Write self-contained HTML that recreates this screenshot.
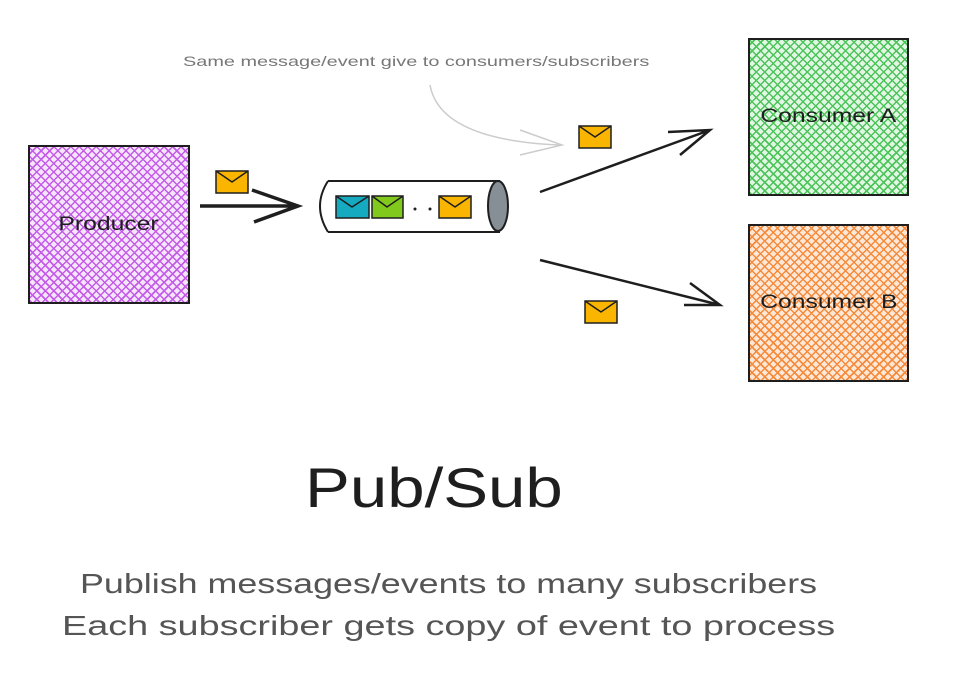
<!DOCTYPE html>
<html><head><style>
body{margin:0;width:960px;height:676px;background:#fff;position:relative;overflow:hidden;font-family:"Liberation Sans",sans-serif}
.box{position:absolute;border:2px solid #1e1e1e;box-sizing:border-box;display:flex;align-items:center;justify-content:center;font-size:19px;color:#1e1e1e}
.box span{display:inline-block;transform:scaleX(1.3)}
.t{position:absolute;white-space:nowrap;transform-origin:left top}
</style></head><body>
<div class="box" style="left:28px;top:145px;width:162px;height:159px;background:repeating-linear-gradient(45deg,#c45ce8 0 1.5px,transparent 1.5px 6px),repeating-linear-gradient(-45deg,#c45ce8 0 1.5px,#f6e6fc 1.5px 6px)"><span>Producer</span></div>
<div class="box" style="left:748px;top:38px;width:161px;height:158px;background:repeating-linear-gradient(45deg,#4cc45a 0 1.5px,transparent 1.5px 6px),repeating-linear-gradient(-45deg,#4cc45a 0 1.5px,#e2f6e4 1.5px 6px)"><span>Consumer A</span></div>
<div class="box" style="left:748px;top:224px;width:161px;height:158px;background:repeating-linear-gradient(45deg,#f58a3a 0 1.5px,transparent 1.5px 6px),repeating-linear-gradient(-45deg,#f58a3a 0 1.5px,#fde8d8 1.5px 6px)"><span>Consumer B</span></div>
<svg width="960" height="676" style="position:absolute;left:0;top:0">
<defs><g id="env"><rect x="0" y="0" width="32" height="22" fill="#f9b500" stroke="#1e1e1e" stroke-width="1.5"/><path d="M0 0 L16 11 L32 0" fill="none" stroke="#1e1e1e" stroke-width="1.5"/></g></defs>
<path d="M430 85 Q440 140 560 145 M520 130 L562 145 L520 155" fill="none" stroke="#ccc" stroke-width="1.5"/>
<path d="M200 206 L296 206 M252 190 L298 206 L254 222" fill="none" stroke="#1e1e1e" stroke-width="3.5"/>
<path d="M540 192 L710 130 M668 132 L710 130 L680 155" fill="none" stroke="#1e1e1e" stroke-width="2.5"/>
<path d="M540 260 L720 305 M690 283 L720 305 L684 305" fill="none" stroke="#1e1e1e" stroke-width="2.5"/>
<path d="M328 181 L500 181 M328 232 L500 232 M328 181 Q312 206 328 232" fill="none" stroke="#1e1e1e" stroke-width="2"/>
<ellipse cx="498" cy="206" rx="10" ry="25" fill="#868e96" stroke="#1e1e1e" stroke-width="2"/>
<g transform="translate(336,196)"><rect width="33" height="22" fill="#15aabf" stroke="#1e1e1e" stroke-width="1.5"/><path d="M0 0 L16 11 L33 0" fill="none" stroke="#1e1e1e" stroke-width="1.5"/></g>
<g transform="translate(372,196)"><rect width="31" height="22" fill="#82c91e" stroke="#1e1e1e" stroke-width="1.5"/><path d="M0 0 L15 11 L31 0" fill="none" stroke="#1e1e1e" stroke-width="1.5"/></g>
<circle cx="415" cy="209" r="1.5" fill="#1e1e1e"/><circle cx="430" cy="209" r="1.5" fill="#1e1e1e"/>
<use href="#env" x="439" y="196"/>
<use href="#env" x="216" y="171"/>
<use href="#env" x="579" y="126"/>
<use href="#env" x="585" y="301"/>
</svg>
<div class="t" style="left:183px;top:53px;font-size:14px;color:#777;transform:scaleX(1.42)">Same message/event give to consumers/subscribers</div>
<div class="t" style="left:305px;top:455px;font-size:56px;color:#1e1e1e;transform:scaleX(1.2)">Pub/Sub</div>
<div class="t" style="left:80px;top:568px;font-size:28px;color:#555;transform:scaleX(1.28)">Publish messages/events to many subscribers</div>
<div class="t" style="left:62px;top:610px;font-size:28px;color:#555;transform:scaleX(1.35)">Each subscriber gets copy of event to process</div>
</body></html>
